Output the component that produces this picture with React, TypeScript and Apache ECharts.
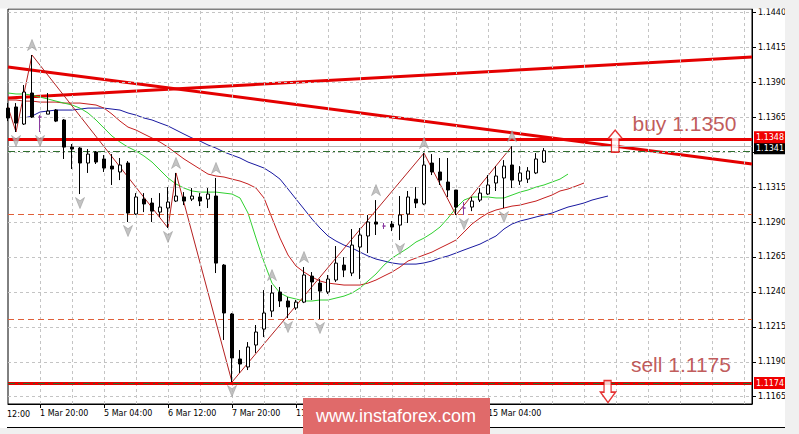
import React, { useEffect, useRef } from "react";
import * as echarts from "echarts";

// H4 bars, index = bar number from the left edge. [open, close, low, high]
const candles: number[][] = [
  [1.13715, 1.13644, 1.13622, 1.13751],
  [1.13723, 1.13608, 1.13544, 1.13751],
  [1.13601, 1.1383, 1.13594, 1.1388],
  [1.13823, 1.13651, 1.13644, 1.14095],
  [1.13651, 1.13651, 1.13544, 1.13665],
  [1.13672, 1.13694, 1.13672, 1.13823],
  [1.13701, 1.13622, 1.13615, 1.13708],
  [1.1363, 1.13436, 1.13351, 1.13637],
  [1.13436, 1.13422, 1.13279, 1.13458],
  [1.13429, 1.13322, 1.131, 1.13436],
  [1.13322, 1.13386, 1.13251, 1.13422],
  [1.13401, 1.13329, 1.13315, 1.13408],
  [1.13351, 1.13286, 1.13258, 1.13379],
  [1.133, 1.13279, 1.13165, 1.13386],
  [1.13258, 1.13308, 1.132, 1.13358],
  [1.13322, 1.12964, 1.129, 1.13336],
  [1.12957, 1.13079, 1.1295, 1.13107],
  [1.13064, 1.13029, 1.12971, 1.13107],
  [1.13036, 1.12978, 1.129, 1.13072],
  [1.12971, 1.13007, 1.12936, 1.13107],
  [1.13, 1.13043, 1.12857, 1.1315],
  [1.1305, 1.13086, 1.13043, 1.13251],
  [1.13079, 1.1305, 1.13021, 1.13114],
  [1.13064, 1.13086, 1.1305, 1.13143],
  [1.13079, 1.1305, 1.13014, 1.13107],
  [1.13064, 1.131, 1.13, 1.13143],
  [1.13086, 1.12606, 1.12535, 1.13215],
  [1.12592, 1.12249, 1.12056, 1.12599],
  [1.12242, 1.11927, 1.11755, 1.12249],
  [1.1192, 1.11884, 1.1182, 1.11984],
  [1.11863, 1.12006, 1.11841, 1.12041],
  [1.1202, 1.12113, 1.11963, 1.12163],
  [1.12134, 1.12249, 1.12077, 1.12413],
  [1.12263, 1.12392, 1.1222, 1.12449],
  [1.12399, 1.12335, 1.12292, 1.12435],
  [1.12335, 1.12292, 1.12213, 1.12363],
  [1.12285, 1.12327, 1.12271, 1.12342],
  [1.12327, 1.12521, 1.1232, 1.12578],
  [1.12513, 1.12471, 1.12342, 1.12542],
  [1.12463, 1.12406, 1.12206, 1.12492],
  [1.12399, 1.12492, 1.12385, 1.12521],
  [1.12485, 1.12606, 1.12471, 1.12728],
  [1.12592, 1.12556, 1.12506, 1.12649],
  [1.12535, 1.12735, 1.12513, 1.1285],
  [1.12721, 1.12807, 1.12492, 1.12857],
  [1.128, 1.129, 1.12678, 1.1295],
  [1.129, 1.12885, 1.12807, 1.13057],
  [1.12871, 1.12871, 1.1285, 1.12893],
  [1.12885, 1.12864, 1.12835, 1.12907],
  [1.12878, 1.1295, 1.12771, 1.13086],
  [1.12957, 1.13079, 1.12893, 1.13122],
  [1.13064, 1.13036, 1.13, 1.1315],
  [1.13029, 1.13308, 1.13021, 1.13393],
  [1.13322, 1.13258, 1.13236, 1.13386],
  [1.13258, 1.132, 1.13165, 1.13358],
  [1.13186, 1.13129, 1.13079, 1.13358],
  [1.13129, 1.13007, 1.1295, 1.13129],
  [1.13, 1.13, 1.1295, 1.13043],
  [1.13007, 1.1305, 1.12978, 1.13079],
  [1.13057, 1.13107, 1.13043, 1.13143],
  [1.131, 1.13165, 1.13093, 1.13236],
  [1.13179, 1.13229, 1.13122, 1.133],
  [1.13215, 1.133, 1.13, 1.13343],
  [1.13308, 1.132, 1.13143, 1.13443],
  [1.13193, 1.13251, 1.13165, 1.133],
  [1.13207, 1.13265, 1.13179, 1.13293],
  [1.13251, 1.13351, 1.13243, 1.13393],
  [1.13329, 1.1341, 1.13322, 1.13429],
];
const dojiBars = [4, 47, 57];

// Alligator (lips green, teeth red, jaw blue), shifted forward past the last bar
const lipsStart = 0;
const lips = [
  1.13823, 1.13816, 1.13816, 1.13808, 1.13794, 1.1378, 1.13765, 1.13751, 1.13737, 1.13715,
  1.1368, 1.1363, 1.13572, 1.13515, 1.13472, 1.13436, 1.13408, 1.13372, 1.13329, 1.13272,
  1.13215, 1.13172, 1.13143, 1.13122, 1.13114, 1.13114, 1.13114, 1.13107, 1.131, 1.13072,
  1.12964, 1.12785, 1.12614, 1.12463, 1.12392, 1.12363, 1.12349, 1.12335, 1.12335, 1.12342,
  1.12342, 1.12356, 1.1237, 1.12392, 1.12428, 1.12478, 1.12528, 1.12592, 1.12642, 1.12678,
  1.12714, 1.12757, 1.12785, 1.12821, 1.12864, 1.12928, 1.13, 1.13057, 1.13079, 1.13079,
  1.13079, 1.13072, 1.13072, 1.13093, 1.13114, 1.13129, 1.1315, 1.13165, 1.13186, 1.13207,
  1.13243,
];
const teethStart = 0;
const teeth = [
  1.13773, 1.13773, 1.13765, 1.13765, 1.13758, 1.13758, 1.13758, 1.13751, 1.13751, 1.13751,
  1.13744, 1.13737, 1.13715, 1.13672, 1.13622, 1.13579, 1.13558, 1.13529, 1.13501, 1.13472,
  1.13436, 1.13393, 1.13351, 1.13315, 1.13279, 1.13243, 1.13229, 1.13222, 1.13207, 1.13193,
  1.13172, 1.13143, 1.13072, 1.12928, 1.12785, 1.12664, 1.12585, 1.12542, 1.12506, 1.12478,
  1.12463, 1.12456, 1.12449, 1.12449, 1.12449, 1.12463, 1.12485, 1.12514, 1.12542, 1.12578,
  1.12621, 1.12642, 1.12664, 1.12685, 1.12714, 1.12742, 1.12771, 1.12828, 1.12886, 1.12928,
  1.12964, 1.12986, 1.13, 1.13014, 1.13021, 1.13036, 1.1305, 1.13072, 1.13093, 1.13122,
  1.13136, 1.13157, 1.13179,
];
const jawStart = 2;
const jaw = [
  1.13644, 1.13658, 1.13687, 1.13694, 1.13701, 1.13701, 1.13701, 1.13708, 1.13715, 1.13715,
  1.13715, 1.13708, 1.13701, 1.1368, 1.13665, 1.13644, 1.1363, 1.13608, 1.13587, 1.13558,
  1.13529, 1.13501, 1.13479, 1.13451, 1.13429, 1.13401, 1.13379, 1.13358, 1.13329, 1.13308,
  1.13286, 1.1325, 1.13207, 1.13136, 1.13064, 1.12993, 1.12921, 1.12857, 1.128, 1.12764,
  1.12735, 1.12714, 1.12685, 1.12657, 1.12635, 1.12621, 1.12607, 1.12599, 1.12599, 1.12599,
  1.12607, 1.12621, 1.12642, 1.12657, 1.12678, 1.127, 1.12721, 1.12742, 1.12771, 1.128,
  1.1285, 1.12886, 1.12907, 1.12921, 1.12936, 1.1295, 1.12964, 1.12986, 1.13007, 1.13021,
  1.13036, 1.13057, 1.13072, 1.13086,
];

// ZigZag turning points [bar, price]
const zigzagBars = [0, 1, 3, 20, 21, 28, 52, 56, 63];
const zigzagPrices = [1.13723, 1.13544, 1.14095, 1.12857, 1.13251, 1.11755, 1.13393, 1.1295, 1.13443];

// Fractals
const fractalUpBars = [3, 21, 26, 33, 37, 46, 52, 63];
const fractalDownBars = [1, 4, 9, 15, 20, 28, 35, 39, 49, 57, 62];

// Trend lines [bar, price] at both ends
const trendFallingBars = [0, 93];
const trendFallingPrices = [1.14009, 1.13315];
const trendRisingBars = [0, 93];
const trendRisingPrices = [1.13787, 1.1408];

// Horizontal levels
const buyLevel = 1.13492;
const sellLevel = 1.11748;
const bidLevel = 1.13439;
const greenLevels = [1.13404, 1.11748];
const dashedLevels = [1.12957, 1.12206];
const buyTag = "1.1348";
const bidTag = "1.1341";
const sellTag = "1.1174";

// Notes and arrows
const noteBars = [78, 77.8];
const notePrices = [1.13605, 1.11882];
const noteTexts = ["buy 1.1350", "sell 1.1175"];
const arrowUpBar = 75.9;
const arrowUpPrice = 1.13479;
const arrowDownBar = 75;
const arrowDownPrice = 1.11687;

// Axes
const timeTickBars = [4, 12, 20, 28, 36, 44, 52, 60];
const timeLabelBars = [4, 12, 20, 28, 36, 60];
const timeLabels = ["1 Mar 20:00", "5 Mar 04:00", "6 Mar 12:00", "7 Mar 20:00", "11 Mar 04:00", "15 Mar 04:00"];
const gridBars = [4, 8, 12, 16, 20, 24, 28, 32, 36, 40, 44, 48, 52, 56, 60, 64, 68, 72, 76, 80, 84, 88, 92];
const priceTicks = [1.1165, 1.119, 1.1215, 1.124, 1.1265, 1.129, 1.1315, 1.134, 1.1365, 1.139, 1.1415, 1.144];
const priceLabels = [1.1165, 1.119, 1.1215, 1.124, 1.1265, 1.129, 1.1315, 1.1365, 1.139, 1.1415, 1.144];
const X_MIN = 0;
const X_MAX = 93;
const Y_MIN = 1.11598;
const Y_MAX = 1.14424;

const FONT = "DejaVu Sans";
const PURPLE = "#8a3aa0";

function buildOption(): any {
  const candleData = candles.map((c, i) =>
    dojiBars.includes(i)
      ? {
          value: [i, c[0], c[1], c[2], c[3]],
          itemStyle: { color: PURPLE, color0: PURPLE, borderColor: PURPLE, borderColor0: PURPLE },
        }
      : [i, c[0], c[1], c[2], c[3]]
  );
  const line = (start: number, vals: number[]) => vals.map((v, i) => [start + i, v]);
  const tag = (text: string, bg: string, dy: number) => ({
    show: true,
    position: "end",
    distance: 2,
    offset: [0, dy],
    formatter: text,
    backgroundColor: bg,
    color: "#fff",
    fontSize: 8,
    fontFamily: FONT,
    lineHeight: 10,
    padding: [1, 3, 1, 2],
  });

  return {
    animation: false,
    textStyle: { fontFamily: FONT },
    grid: {
      left: 8,
      top: 9,
      width: 744,
      height: 395,
      show: true,
      borderColor: "#000",
      borderWidth: 1,
      backgroundColor: "#fff",
    },
    xAxis: {
      type: "value",
      min: X_MIN,
      max: X_MAX,
      axisLine: { show: true, onZero: false, lineStyle: { color: "#000", width: 1 } },
      axisTick: { show: true, customValues: timeTickBars, length: 4, lineStyle: { color: "#000" } },
      axisLabel: {
        show: true,
        customValues: timeLabelBars,
        formatter: (v: number) => timeLabels[timeLabelBars.indexOf(Math.round(v))] ?? "",
        align: "left",
        margin: 5,
        fontSize: 8,
        color: "#000",
        fontFamily: FONT,
      },
      splitLine: { show: false },
    },
    yAxis: {
      type: "value",
      position: "right",
      min: Y_MIN,
      max: Y_MAX,
      axisLine: { show: true, onZero: false, lineStyle: { color: "#000", width: 1 } },
      axisTick: { show: true, customValues: priceTicks, length: 4, lineStyle: { color: "#000" } },
      axisLabel: {
        show: true,
        customValues: priceLabels,
        formatter: (v: number) => v.toFixed(4),
        margin: 6,
        fontSize: 8,
        color: "#000",
        fontFamily: FONT,
      },
      splitLine: { show: false },
    },
    series: [
      {
        type: "line",
        name: "grid",
        data: [],
        z: 1,
        silent: true,
        markLine: {
          silent: true,
          precision: 6,
          symbol: ["none", "none"],
          label: { show: false },
          lineStyle: { color: "#c4c4c4", type: [3, 3], width: 1 },
          data: [
            ...priceTicks.map((v) => ({ yAxis: v })),
            ...gridBars.map((b) => ({ xAxis: b })),
          ],
        },
      },
      {
        type: "line",
        name: "levels",
        data: [],
        z: 3,
        silent: true,
        markLine: {
          silent: true,
          precision: 6,
          symbol: ["none", "none"],
          label: { show: false },
          data: [
            ...dashedLevels.map((v) => ({
              yAxis: v,
              lineStyle: { color: "#e0603a", type: [6, 4], width: 1 },
            })),
            { yAxis: bidLevel, lineStyle: { color: "#b4b4b4", type: "solid", width: 1 }, label: tag(bidTag, "#000", 1.5) },
            { yAxis: buyLevel, lineStyle: { color: "#e80000", type: "solid", width: 3 }, label: tag(buyTag, "#f00000", -2) },
            { yAxis: sellLevel, lineStyle: { color: "#e80000", type: "solid", width: 3 }, label: tag(sellTag, "#f00000", 0) },
          ],
        },
      },
      {
        type: "line",
        name: "greenLevels",
        data: [],
        z: 4,
        silent: true,
        markLine: {
          silent: true,
          precision: 6,
          symbol: ["none", "none"],
          label: { show: false },
          lineStyle: { color: "#2f6f2f", type: [7, 3, 2, 3], width: 1 },
          data: greenLevels.map((v) => ({ yAxis: v })),
        },
      },
      {
        type: "line",
        name: "trendFalling",
        data: trendFallingBars.map((b, i) => [b, trendFallingPrices[i]]),
        showSymbol: false,
        symbol: "none",
        z: 3,
        lineStyle: { color: "#e40000", width: 3 },
        silent: true,
      },
      {
        type: "line",
        name: "trendRising",
        data: trendRisingBars.map((b, i) => [b, trendRisingPrices[i]]),
        showSymbol: false,
        symbol: "none",
        z: 3,
        lineStyle: { color: "#e40000", width: 3 },
        silent: true,
      },
      {
        type: "line",
        name: "jaw",
        data: line(jawStart, jaw),
        symbol: "none",
        z: 4,
        lineStyle: { color: "#1818a0", width: 1 },
        silent: true,
      },
      {
        type: "line",
        name: "teeth",
        data: line(teethStart, teeth),
        symbol: "none",
        z: 4,
        lineStyle: { color: "#c41e1e", width: 1 },
        silent: true,
      },
      {
        type: "line",
        name: "lips",
        data: line(lipsStart, lips),
        symbol: "none",
        z: 4,
        lineStyle: { color: "#30d030", width: 1 },
        silent: true,
      },
      {
        type: "line",
        name: "zigzag",
        data: zigzagBars.map((b, i) => [b, zigzagPrices[i]]),
        symbol: "none",
        z: 4,
        lineStyle: { color: "#b42020", width: 1 },
        silent: true,
      },
      {
        type: "candlestick",
        name: "EURUSD,H4",
        data: candleData,
        barWidth: 4,
        z: 5,
        clip: true,
        silent: true,
        itemStyle: {
          color: "#ffffff",
          color0: "#000000",
          borderColor: "#000000",
          borderColor0: "#000000",
          borderWidth: 1,
        },
      },
      {
        type: "scatter",
        name: "fractalUp",
        data: fractalUpBars.map((b) => [b, candles[b][3]]),
        symbol: "path://M5,0L10,12L5,8.5L0,12Z",
        symbolSize: [9, 11],
        symbolOffset: [0, -10],
        z: 6,
        silent: true,
        itemStyle: { color: "#b4b4b4", borderColor: "#8c8c8c", borderWidth: 0.6 },
      },
      {
        type: "scatter",
        name: "fractalDown",
        data: fractalDownBars.map((b) => [b, candles[b][2]]),
        symbol: "path://M0,0L5,3.5L10,0L5,12Z",
        symbolSize: [9, 11],
        symbolOffset: [0, 9],
        z: 6,
        silent: true,
        itemStyle: { color: "#b4b4b4", borderColor: "#8c8c8c", borderWidth: 0.6 },
      },
      {
        type: "scatter",
        name: "arrows",
        data: [
          { value: [arrowUpBar, arrowUpPrice], symbol: "path://M8,0L16,9L12,9L12,22L4,22L4,9L0,9Z" },
          { value: [arrowDownBar, arrowDownPrice], symbol: "path://M4,0L12,0L12,12L17,12L8.5,23L0,12L4,12Z" },
        ],
        symbolSize: [15, 22],
        z: 7,
        silent: true,
        itemStyle: { color: "#ffffff", borderColor: "#e00000", borderWidth: 1.5 },
      },
      {
        type: "scatter",
        name: "notes",
        data: noteBars.map((b, i) => ({ value: [b, notePrices[i]], label: { formatter: noteTexts[i] } })),
        symbolSize: 1,
        z: 7,
        silent: true,
        itemStyle: { color: "rgba(0,0,0,0)" },
        label: {
          show: true,
          position: "right",
          distance: 0,
          color: "#b03030",
          fontSize: 21,
          fontFamily: "Liberation Sans",
        },
      },
    ],
    graphic: [
      { type: "rect", z: 100, silent: true, shape: { x: 0, y: 0, width: 799, height: 8.5 }, style: { fill: "#f0f0f0" } },
      { type: "rect", z: 100, silent: true, shape: { x: 785, y: 0, width: 14, height: 434 }, style: { fill: "#f0f0f0" } },
      { type: "rect", z: 100, silent: true, shape: { x: 0, y: 428, width: 799, height: 6 }, style: { fill: "#f0f0f0" } },
      { type: "line", z: 100, silent: true, shape: { x1: 7, y1: 427.5, x2: 785, y2: 427.5 }, style: { stroke: "#000", lineWidth: 1 } },
      {
        type: "text",
        z: 100,
        silent: true,
        x: 7,
        y: 414,
        style: { text: "12:00", fontSize: 8, fontFamily: FONT, fill: "#000", verticalAlign: "middle", align: "left" },
      },
      { type: "rect", z: 101, silent: true, shape: { x: 303, y: 398, width: 187, height: 36 }, style: { fill: "#e06a6a" } },
      {
        type: "text",
        z: 102,
        silent: true,
        x: 396,
        y: 416,
        style: {
          text: "www.instaforex.com",
          fontSize: 18,
          fontFamily: "Liberation Sans",
          fill: "#ffffff",
          align: "center",
          verticalAlign: "middle",
        },
      },
    ],
  };
}

export default function App() {
  const ref = useRef<HTMLDivElement>(null);
  useEffect(() => {
    if (!ref.current) return;
    const chart = echarts.init(ref.current, null, { renderer: "svg" });
    chart.setOption(buildOption());
    return () => chart.dispose();
  }, []);
  return (
    <div
      ref={ref}
      style={{ position: "fixed", left: 0, top: 0, width: 799, height: 434, background: "#ffffff" }}
    />
  );
}
